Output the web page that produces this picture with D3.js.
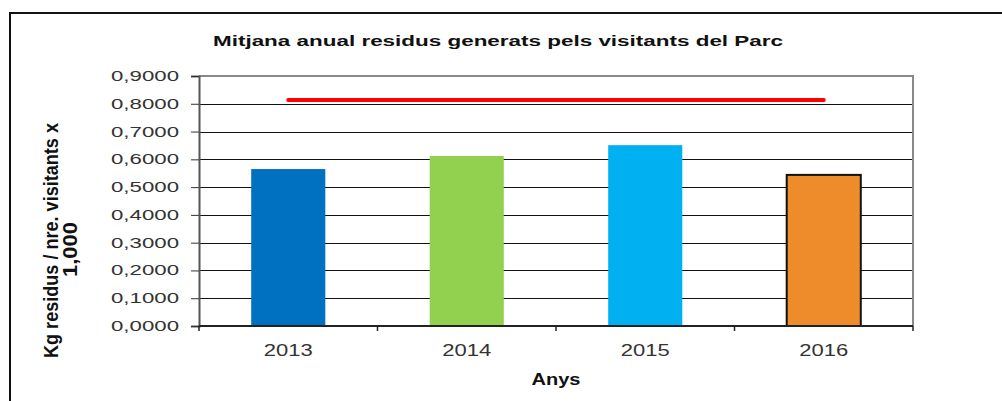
<!DOCTYPE html>
<html><head><meta charset="utf-8">
<script src="https://cdn.jsdelivr.net/npm/d3@7"></script>
<style>
html,body{margin:0;padding:0;background:#fff;}
svg{display:block;font-family:"Liberation Sans",Arial,sans-serif;}
</style></head>
<body><svg id="c" width="1002" height="401"></svg>
<script>
const categories = ["2013", "2014", "2015", "2016"];
const values = [0.565, 0.612, 0.651, 0.544];
const limitValues = [0.814, 0.814, 0.814, 0.814];
const barColors = ["#0070C0", "#92D050", "#00B0F0", "#EE8B2B"];
const yTicks = [0, 0.1, 0.2, 0.3, 0.4, 0.5, 0.6, 0.7, 0.8, 0.9];
const title = "Mitjana anual residus generats pels visitants del Parc";
const xTitle = "Anys";
const yTitleLines = ["Kg residus / nre. visitants x", "1,000"];

const svg = d3.select("#c");
const L = 199, R = 913, T = 76, B = 326;

// outer frame
svg.append("rect").attr("x", 10).attr("y", 13).attr("width", 1010).attr("height", 420)
  .attr("fill", "#fff").attr("stroke", "#111").attr("stroke-width", 2);

const x = d3.scaleBand().domain(categories).range([L, R]).paddingInner(0.585).paddingOuter(0.2925);
const y = d3.scaleLinear().domain([0, 0.9]).range([B, T]);
const loc = d3.formatLocale({decimal: ",", thousands: ".", grouping: [3], currency: ["", "€"]});
const fmt = loc.format(".4f");

// gridlines
svg.append("g").selectAll("line").data(yTicks.filter(d => d > 0 && d < 0.9)).join("line")
  .attr("x1", L).attr("x2", R).attr("y1", d => Math.round(y(d)) + 0.5).attr("y2", d => Math.round(y(d)) + 0.5)
  .attr("stroke", "#111").attr("stroke-width", 1);

// plot border top/right
svg.append("path").attr("d", `M${L},${T}H${R}V${B}`).attr("fill", "none")
  .attr("stroke", "#8a8a8a").attr("stroke-width", 2);

// bars
svg.append("g").selectAll("rect").data(categories).join("rect")
  .attr("x", c => x(c)).attr("width", x.bandwidth())
  .attr("y", (c, i) => y(values[i])).attr("height", (c, i) => B - y(values[i]))
  .attr("fill", (c, i) => barColors[i])
  .attr("stroke", (c, i) => i === 3 ? "#111" : "none").attr("stroke-width", 2);

// limit line
const line = d3.line().x((d, i) => x(categories[i]) + x.bandwidth() / 2).y(d => y(d));
svg.append("path").datum(limitValues).attr("d", line).attr("fill", "none")
  .attr("stroke", "#ff0000").attr("stroke-width", 4).attr("stroke-linecap", "round");

// y axis
const ya = svg.append("g").attr("transform", `translate(${L},0)`)
  .call(d3.axisLeft(y).tickValues(yTicks).tickSize(8).tickPadding(12).tickFormat(fmt));
ya.select(".domain").attr("stroke", "#555").attr("stroke-width", 2);
ya.selectAll(".tick line").attr("stroke", "#333").attr("stroke-width", 1);
ya.selectAll(".tick text").attr("font-size", 14).attr("fill", "#333")
  .attr("font-family", "Liberation Sans, Arial, sans-serif")
  .attr("textLength", 68).attr("lengthAdjust", "spacingAndGlyphs");

// x axis
svg.append("line").attr("x1", L).attr("x2", R).attr("y1", B).attr("y2", B)
  .attr("stroke", "#222").attr("stroke-width", 2);
const bounds = categories.map(c => x(c) + x.bandwidth() / 2 - x.step() / 2).concat([R]);
svg.append("g").selectAll("line").data(bounds).join("line")
  .attr("x1", d => d).attr("x2", d => d).attr("y1", B).attr("y2", B + 5)
  .attr("stroke", "#222").attr("stroke-width", 1.5);
svg.append("g").selectAll("text").data(categories).join("text")
  .attr("x", c => x(c) + x.bandwidth() / 2).attr("y", 356)
  .attr("text-anchor", "middle").attr("font-size", 17).attr("fill", "#333")
  .attr("textLength", 49).attr("lengthAdjust", "spacingAndGlyphs")
  .text(c => c);

// titles
svg.append("text").attr("x", 498).attr("y", 46).attr("text-anchor", "middle")
  .attr("font-size", 14).attr("font-weight", "bold").attr("fill", "#111")
  .attr("textLength", 570).attr("lengthAdjust", "spacingAndGlyphs").text(title);
svg.append("text").attr("x", 556).attr("y", 385).attr("text-anchor", "middle")
  .attr("font-size", 16).attr("font-weight", "bold").attr("fill", "#111")
  .attr("textLength", 49).attr("lengthAdjust", "spacingAndGlyphs").text(xTitle);

svg.append("text").attr("transform", "translate(57.5,240.5) rotate(-90)")
  .attr("text-anchor", "middle").attr("font-size", 19.5).attr("font-weight", "bold").attr("fill", "#111")
  .attr("textLength", 235).attr("lengthAdjust", "spacingAndGlyphs").text(yTitleLines[0]);
svg.append("text").attr("transform", "translate(77,249.5) rotate(-90)")
  .attr("text-anchor", "middle").attr("font-size", 19.5).attr("font-weight", "bold").attr("fill", "#111")
  .attr("textLength", 55).attr("lengthAdjust", "spacingAndGlyphs").text(yTitleLines[1]);
</script></body></html>
